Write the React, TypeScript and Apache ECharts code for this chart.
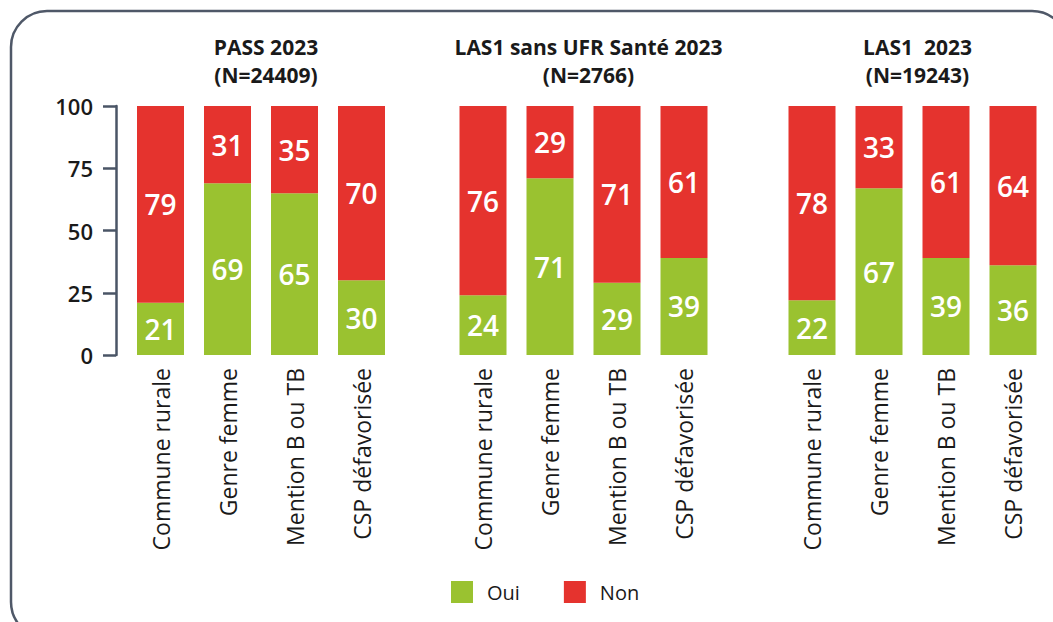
import React, { useEffect, useRef } from "react";
import * as echarts from "echarts";

const categories = ["Commune rurale", "Genre femme", "Mention B ou TB", "CSP défavorisée"];
const groupTitles = ["PASS 2023\n(N=24409)", "LAS1 sans UFR Santé 2023\n(N=2766)", "LAS1  2023\n(N=19243)"];
const ouiPass = [21, 69, 65, 30];
const nonPass = [79, 31, 35, 70];
const ouiLasSans = [24, 71, 29, 39];
const nonLasSans = [76, 29, 71, 61];
const ouiLas = [22, 67, 39, 36];
const nonLas = [78, 33, 61, 64];
const yTicks = [0, 25, 50, 75, 100];

const GREEN = "#9AC230";
const RED = "#E5332E";
const FONT = "Open Sans";

export default function App() {
  const ref = useRef<HTMLDivElement>(null);
  useEffect(() => {
    if (!ref.current) return;
    const chart = echarts.init(ref.current, null, { renderer: "svg" });
    const groups = [
      { oui: ouiPass, non: nonPass },
      { oui: ouiLasSans, non: nonLasSans },
      { oui: ouiLas, non: nonLas },
    ];
    const lefts = [127, 449.5, 778.5];
    const gridW = 268;
    const grids = lefts.map((l) => ({ left: l, width: gridW, top: 106, bottom: 267 }));
    const xAxes = lefts.map((_, i) => ({
      type: "category",
      gridIndex: i,
      data: categories,
      axisLine: { show: false },
      axisTick: { show: false },
      axisLabel: {
        rotate: 90,
        margin: 13,
        fontFamily: FONT,
        fontSize: 23,
        color: "#1a1a1a",
      },
    }));
    const yAxes = lefts.map((_, i) => ({
      type: "value",
      gridIndex: i,
      min: 0,
      max: 100,
      interval: 25,
      offset: 11,
      splitLine: { show: false },
      axisLine: { show: i === 0, lineStyle: { color: "#4a5566", width: 2.5 } },
      axisTick: { show: i === 0, length: 13, lineStyle: { color: "#4a5566", width: 2.5 } },
      axisLabel: {
        show: i === 0,
        margin: 23,
        fontFamily: FONT,
        fontSize: 22,
        fontWeight: 600,
        color: "#1a1a1a",
        formatter: (v: number) => (yTicks.includes(v) ? String(v) : ""),
      },
    }));
    const series: any[] = [];
    groups.forEach((g, i) => {
      const label = {
        show: true,
        position: "inside",
        color: "#ffffff",
        fontFamily: FONT,
        fontSize: 28,
        fontWeight: 600,
      };
      series.push({
        name: "Oui",
        type: "bar",
        stack: "s" + i,
        xAxisIndex: i,
        yAxisIndex: i,
        barWidth: 47,
        data: g.oui,
        itemStyle: { color: GREEN },
        label,
      });
      series.push({
        name: "Non",
        type: "bar",
        stack: "s" + i,
        xAxisIndex: i,
        yAxisIndex: i,
        barWidth: 47,
        data: g.non,
        itemStyle: { color: RED },
        label,
      });
    });
    const titles = groupTitles.map((t, i) => ({
      text: t,
      left: lefts[i] + gridW / 2,
      top: 28,
      textAlign: "center",
      textStyle: {
        fontFamily: FONT,
        fontSize: 21,
        fontWeight: "bold",
        color: "#1a1a1a",
        lineHeight: 28,
      },
    }));
    chart.setOption({
      animation: false,
      backgroundColor: "#ffffff",
      title: titles,
      grid: grids,
      xAxis: xAxes,
      yAxis: yAxes,
      series,
      legend: {
        data: ["Oui", "Non"],
        left: 446,
        top: 576,
        icon: "rect",
        itemWidth: 22,
        itemHeight: 22,
        itemGap: 44,
        textStyle: {
          fontFamily: FONT,
          fontSize: 20,
          color: "#1a1a1a",
          padding: [0, 0, 0, 9],
        },
      },
      graphic: [
        {
          type: "rect",
          shape: { x: 11, y: 11, width: 1057, height: 627, r: 36 },
          style: { fill: "none", stroke: "#4f5868", lineWidth: 2.5 },
          silent: true,
          z: -1,
        },
      ],
    });
    return () => chart.dispose();
  }, []);
  return (
    <div
      ref={ref}
      style={{ position: "absolute", left: 0, top: 0, width: 1053, height: 622 }}
    />
  );
}
